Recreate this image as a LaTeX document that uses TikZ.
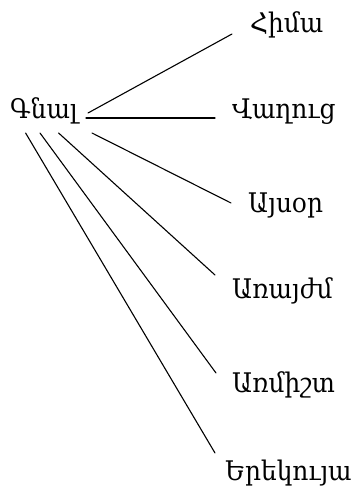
\documentclass[tikz,border=0pt]{standalone}
\usepackage{fontspec}
\setmainfont[FakeStretch=0.92]{DejaVu Serif}
\usetikzlibrary{calc}

\begin{document}
\begin{tikzpicture}[x=1pt, y=-1pt, line cap=round, line join=round,
	word/.style={inner sep=0pt, anchor=base west, font=\fontsize{27}{31}\selectfont},
	branch/.style={line width=1.1pt}]
	\useasboundingbox (0,0) rectangle (355,492);

	%========================
	% root word
	%========================
	\node[word] (root) at (10,118) {Գնալ};

	%========================
	% leaves
	%========================
	\node[word] (now)       at (250,33)  {Հիմա};
	\node[word] (long)      at (232,118) {Վաղուց};
	\node[word] (today)     at (248,212) {Այսօր};
	\node[word] (meanwhile) at (232,298) {Առայժմ};
	\node[word] (forever)   at (232,392) {Առմիշտ};
	\node[word] (yesterday) at (225,480) {Երեկույա};

	% branches
	\draw[branch] ($(root.base west)+(78,-5)$)   -- ($(now.base west)+(-18,1)$);
	\draw[branch] ($(root.base west)+(76,0)$)    -- ($(long.base west)+(-17,0)$);
	\draw[branch] ($(root.base west)+(82,15)$)   -- ($(today.base west)+(-17,-9)$);
	\draw[branch] ($(root.base west)+(48.6,15)$) -- ($(meanwhile.base west)+(-17,-23)$);
	\draw[branch] ($(root.base west)+(30,15)$)   -- ($(forever.base west)+(-16,-19)$);
	\draw[branch] ($(root.base west)+(15.6,15)$) -- ($(yesterday.base west)+(-10,-27)$);
\end{tikzpicture}
\end{document}
